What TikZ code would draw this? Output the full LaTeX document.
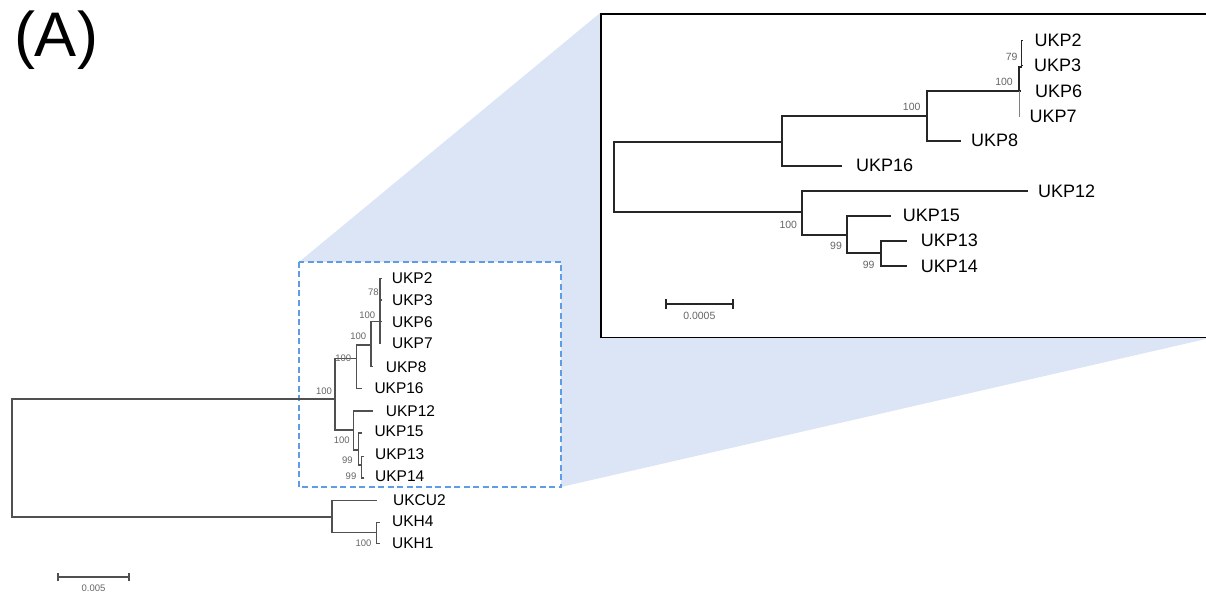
\documentclass[tikz,border=0pt]{standalone}
\usepackage{fontspec}
\setmainfont{Liberation Sans}
\definecolor{zoomblue}{HTML}{DCE5F5}
\definecolor{dashblue}{HTML}{5E9DE6}
\definecolor{treegray}{HTML}{505050}
\definecolor{bootgray}{HTML}{666666}
\tikzset{
  mlab/.style={anchor=west,inner sep=0pt,font=\fontsize{15.5}{16}\selectfont},
  ilab/.style={anchor=west,inner sep=0pt,font=\fontsize{18}{19}\selectfont},
  mboot/.style={inner sep=0pt,text=bootgray,font=\fontsize{9.5}{10}\selectfont},
  iboot/.style={inner sep=0pt,text=bootgray,font=\fontsize{10.5}{11}\selectfont},
  mbranch/.style={draw=treegray,line width=1.3pt},
  ibranch/.style={draw=black!85,line width=1.9pt},
}
\begin{document}
\begin{tikzpicture}[x=1pt,y=-1pt]
\useasboundingbox (0,0) rectangle (1206,593);
% zoom wedge
\fill[zoomblue] (299,262) -- (600,13) -- (1206,13) -- (1206,339) -- (561,487) -- (299,487) -- cycle;
\fill[white] (299,262) rectangle (561,487);
\draw[draw=dashblue,dash pattern=on 6pt off 3.5pt,line width=1.3pt] (299,262) rectangle (561,487);
\draw[draw=black,line width=1.8pt,fill=white] (600.7,14) rectangle (1208,337.5);
% title
\node[inner sep=0pt,font=\fontsize{63}{65}\selectfont] (title) at (56,40) {(A)};

% ---------------- main tree ----------------
\coordinate (r0) at (12,458);
\coordinate (a) at (335,399);
\coordinate (b) at (356.7,358.3);
\coordinate (c) at (353.3,430);
\coordinate (d) at (371,345);
\coordinate (e) at (380,321.7);
\coordinate (f) at (358.3,450);
\coordinate (g) at (361.7,465);
\coordinate (h) at (332,517);
\coordinate (k) at (376.8,532.7);
\coordinate (t2) at (381.5,278.3);
\coordinate (t3) at (381.5,300);
\coordinate (t6) at (381.5,321.7);
\coordinate (t7) at (380.5,343.3);
\coordinate (t8) at (373.3,366.7);
\coordinate (t16) at (361.7,388.3);
\coordinate (t12) at (373.3,411);
\coordinate (t15) at (362,433);
\coordinate (t13) at (364,456.7);
\coordinate (t14) at (364,478);
\coordinate (tcu2) at (376.8,500.7);
\coordinate (th4) at (379.6,522.3);
\coordinate (th1) at (379.6,543.3);

\draw[mbranch] (r0) |- (a);
\draw[mbranch] (r0) |- (h);
\draw[mbranch] (a) |- (b);
\draw[mbranch] (a) |- (c);
\draw[mbranch] (b) |- (d);
\draw[mbranch] (b) |- (t16);
\draw[mbranch] (d) |- (e);
\draw[mbranch] (d) |- (t8);
\draw[mbranch] (e) |- (t2);
\draw[mbranch] (e) |- (t3);
\draw[mbranch] (e) |- (t6);
\draw[mbranch] (e) |- (t7);
\draw[mbranch] (c) |- (t12);
\draw[mbranch] (c) |- (f);
\draw[mbranch] (f) |- (t15);
\draw[mbranch] (f) |- (g);
\draw[mbranch] (g) |- (t13);
\draw[mbranch] (g) |- (t14);
\draw[mbranch] (h) |- (tcu2);
\draw[mbranch] (h) |- (k);
\draw[mbranch] (k) |- (th4);
\draw[mbranch] (k) |- (th1);

\node[mlab] (lUKP2) at (391.7,278.3) {UKP2};
\node[mlab] (lUKP3) at (392,300) {UKP3};
\node[mlab] (lUKP6) at (392,321.7) {UKP6};
\node[mlab] (lUKP7) at (392,343.3) {UKP7};
\node[mlab] (lUKP8) at (385.7,366.7) {UKP8};
\node[mlab] (lUKP16) at (374.3,387.7) {UKP16};
\node[mlab] (lUKP12) at (385.7,411) {UKP12};
\node[mlab] (lUKP15) at (374.3,431.7) {UKP15};
\node[mlab] (lUKP13) at (375,454.3) {UKP13};
\node[mlab] (lUKP14) at (375,476) {UKP14};
\node[mlab] (lUKCU2) at (392.9,500) {UKCU2};
\node[mlab] (lUKH4) at (392,521.7) {UKH4};
\node[mlab] (lUKH1) at (392,543.3) {UKH1};

\node[mboot] (mb1) at (373.3,292.3) {78};
\node[mboot] (mb2) at (367.3,315) {100};
\node[mboot] (mb3) at (358.3,336.7) {100};
\node[mboot] (mb4) at (343.3,358.3) {100};
\node[mboot] (mb5) at (324,391) {100};
\node[mboot] (mb6) at (341.7,440.7) {100};
\node[mboot] (mb7) at (347.3,460) {99};
\node[mboot] (mb8) at (351,476.7) {99};
\node[mboot] (mb9) at (363.6,543) {100};

% main scale bar
\coordinate (sb1) at (58,577);
\coordinate (sb2) at (129,577);
\draw[treegray,line width=1.3pt] (sb1) -- (sb2);
\draw[treegray,line width=1.3pt] ([yshift=-4pt]sb1) -- ([yshift=4pt]sb1);
\draw[treegray,line width=1.3pt] ([yshift=-4pt]sb2) -- ([yshift=4pt]sb2);
\node[mboot] (sblab) at (93.5,588) {0.005};

% ---------------- inset tree ----------------
\coordinate (R) at (614,177);
\coordinate (A) at (782.3,141.7);
\coordinate (B) at (926.7,115.7);
\coordinate (C) at (1019,90.7);
\coordinate (D) at (1021.7,66.7);
\coordinate (E) at (802.3,212.3);
\coordinate (F) at (847.3,235);
\coordinate (G) at (881,253.3);
\coordinate (T2) at (1023,40.7);
\coordinate (T3) at (1023,65.7);
\coordinate (T6) at (1021,91);
\coordinate (T7) at (1019,116.7);
\coordinate (T8) at (960.7,140.7);
\coordinate (T16) at (842.3,165.7);
\coordinate (T12) at (1027.7,191);
\coordinate (T15) at (891,215.7);
\coordinate (T13) at (906.7,240.7);
\coordinate (T14) at (906.7,266);

\draw[ibranch] (R) |- (A);
\draw[ibranch] (R) |- (E);
\draw[ibranch] (A) |- (B);
\draw[ibranch] (A) |- (T16);
\draw[ibranch] (B) |- (C);
\draw[ibranch] (B) |- (T8);
\draw[ibranch] (C) |- (D);
\draw[ibranch] (C) |- (T6);
\draw[ibranch,line width=0.6pt,draw=black!50] (C) |- (T7);
\draw[ibranch,line width=1.3pt] (D) |- (T2);
\draw[ibranch,line width=1.3pt] (D) |- (T3);
\draw[ibranch] (E) |- (T12);
\draw[ibranch] (E) |- (F);
\draw[ibranch] (F) |- (T15);
\draw[ibranch] (F) |- (G);
\draw[ibranch] (G) |- (T13);
\draw[ibranch] (G) |- (T14);

\node[ilab] (LUKP2) at (1034.3,40.7) {UKP2};
\node[ilab] (LUKP3) at (1034,65.7) {UKP3};
\node[ilab] (LUKP6) at (1035,91) {UKP6};
\node[ilab] (LUKP7) at (1029.3,116.7) {UKP7};
\node[ilab] (LUKP8) at (971,140.7) {UKP8};
\node[ilab] (LUKP16) at (856,165.7) {UKP16};
\node[ilab] (LUKP12) at (1038,191) {UKP12};
\node[ilab] (LUKP15) at (902.7,215.7) {UKP15};
\node[ilab] (LUKP13) at (920.7,240.7) {UKP13};
\node[ilab] (LUKP14) at (920.7,266) {UKP14};

\node[iboot] (ib1) at (1011.7,56.7) {79};
\node[iboot] (ib2) at (1004,81.7) {100};
\node[iboot] (ib3) at (911.7,106.7) {100};
\node[iboot] (ib4) at (788.3,225) {100};
\node[iboot] (ib5) at (836,246) {99};
\node[iboot] (ib6) at (868.7,265) {99};

% inset scale bar
\coordinate (SB1) at (665.7,304);
\coordinate (SB2) at (733.3,304);
\draw[black!85,line width=1.7pt] (SB1) -- (SB2);
\draw[black!85,line width=1.7pt] ([yshift=-5pt]SB1) -- ([yshift=5pt]SB1);
\draw[black!85,line width=1.7pt] ([yshift=-5pt]SB2) -- ([yshift=5pt]SB2);
\node[iboot] (SBlab) at (699.3,315.5) {0.0005};
\end{tikzpicture}
\end{document}
